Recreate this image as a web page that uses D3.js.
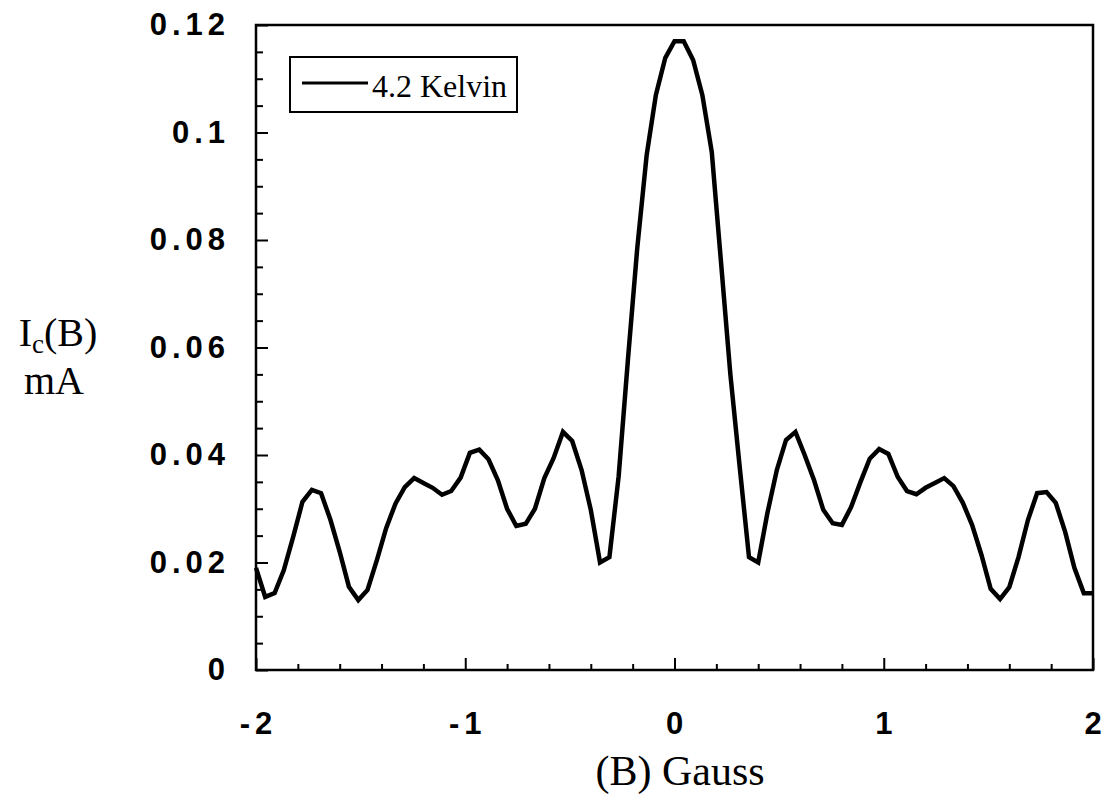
<!DOCTYPE html>
<html>
<head>
<meta charset="utf-8">
<script src="https://cdn.jsdelivr.net/npm/d3@7"></script>
<style>
  body { margin: 0; background: #fff; }
  .tick-label { font-family: "Liberation Sans", Arial, sans-serif; font-weight: bold; font-size: 31px; letter-spacing: 5px; }
  .serif { font-family: "Liberation Serif", "Times New Roman", serif; }
</style>
</head>
<body>
<div id="chart"></div>
<script>
// field (Gauss)
const fieldB = [
  -2.000, -1.956, -1.911, -1.867, -1.822, -1.778, -1.733, -1.689, -1.644, -1.600,
  -1.556, -1.511, -1.467, -1.422, -1.378, -1.333, -1.289, -1.244, -1.200, -1.156,
  -1.111, -1.067, -1.022, -0.978, -0.933, -0.889, -0.844, -0.800, -0.756, -0.711,
  -0.667, -0.622, -0.578, -0.533, -0.489, -0.444, -0.400, -0.356, -0.311, -0.267,
  -0.222, -0.178, -0.133, -0.089, -0.044, 0.000, 0.044, 0.089, 0.133, 0.178,
  0.222, 0.267, 0.311, 0.356, 0.400, 0.444, 0.489, 0.533, 0.578, 0.622,
  0.667, 0.711, 0.756, 0.800, 0.844, 0.889, 0.933, 0.978, 1.022, 1.067,
  1.111, 1.156, 1.200, 1.244, 1.289, 1.333, 1.378, 1.422, 1.467, 1.511,
  1.556, 1.600, 1.644, 1.689, 1.733, 1.778, 1.822, 1.867, 1.911, 1.956, 2.000
];
// critical current (mA) at 4.2 K
const currentIc = [
  0.0190, 0.0136, 0.0143, 0.0186, 0.0248, 0.0313, 0.0335, 0.0329, 0.0279, 0.0220,
  0.0155, 0.0130, 0.0149, 0.0205, 0.0264, 0.0310, 0.0340, 0.0357, 0.0348, 0.0339,
  0.0326, 0.0333, 0.0358, 0.0404, 0.0410, 0.0392, 0.0353, 0.0300, 0.0268, 0.0272,
  0.0300, 0.0357, 0.0394, 0.0443, 0.0426, 0.0372, 0.0298, 0.0200, 0.0210, 0.0360,
  0.0580, 0.0785, 0.0958, 0.1070, 0.1139, 0.1170, 0.1170, 0.1135, 0.1070, 0.0964,
  0.0760, 0.0550, 0.0380, 0.0210, 0.0200, 0.0292, 0.0372, 0.0428, 0.0443, 0.0400,
  0.0353, 0.0298, 0.0273, 0.0270, 0.0303, 0.0350, 0.0393, 0.0411, 0.0402, 0.0359,
  0.0333, 0.0327, 0.0339, 0.0348, 0.0357, 0.0342, 0.0311, 0.0270, 0.0214, 0.0151,
  0.0132, 0.0154, 0.0210, 0.0279, 0.0329, 0.0331, 0.0311, 0.0257, 0.0190, 0.0143, 0.0143
];
const xTicks = [-2, -1, 0, 1, 2];
const xMinorTicks = [-1.8, -1.6, -1.4, -1.2, -0.8, -0.6, -0.4, -0.2, 0.2, 0.4, 0.6, 0.8, 1.2, 1.4, 1.6, 1.8];
const yTicks = [0, 0.02, 0.04, 0.06, 0.08, 0.1, 0.12];
const yTickLabels = ["0", "0.02", "0.04", "0.06", "0.08", "0.1", "0.12"];
const yMinorTicks = [0.005, 0.01, 0.015, 0.025, 0.03, 0.035, 0.045, 0.05, 0.055, 0.065, 0.07, 0.075,
  0.085, 0.09, 0.095, 0.105, 0.11, 0.115];
const seriesName = "4.2 Kelvin";

const width = 1108, height = 798;
const margin = { top: 25, right: 15, bottom: 128, left: 256 };
const w = width - margin.left - margin.right;
const h = height - margin.top - margin.bottom;

const svg = d3.select("#chart").append("svg")
  .attr("width", width)
  .attr("height", height);

const g = svg.append("g")
  .attr("transform", `translate(${margin.left},${margin.top})`);

const x = d3.scaleLinear().domain([-2, 2]).range([0, w]);
const y = d3.scaleLinear().domain([0, 0.12]).range([h, 0]);

// minor ticks (inward)
g.append("g")
  .attr("transform", `translate(0,${h})`)
  .call(d3.axisBottom(x).tickValues(xMinorTicks).tickSize(-6).tickFormat(""));
g.append("g")
  .call(d3.axisLeft(y).tickValues(yMinorTicks).tickSize(-7).tickFormat(""));

// major ticks + labels
g.append("g")
  .attr("transform", `translate(0,${h})`)
  .call(d3.axisBottom(x).tickValues(xTicks).tickSize(-12).tickPadding(42)
    .tickFormat(d => String(d)))
  .selectAll("text").attr("class", "tick-label").attr("dx", 2);
g.append("g")
  .call(d3.axisLeft(y).tickValues(yTicks).tickSize(-12).tickPadding(26)
    .tickFormat((d, i) => yTickLabels[i]))
  .selectAll("text").attr("class", "tick-label");

g.selectAll(".domain").remove();
g.selectAll(".tick line").attr("stroke", "#000").attr("stroke-width", 2);
g.selectAll(".tick text").attr("fill", "#000").attr("font-size", null).attr("font-family", null);

// frame
g.append("rect")
  .attr("width", w).attr("height", h)
  .attr("fill", "none").attr("stroke", "#000").attr("stroke-width", 2.5);

// curve
const line = d3.line()
  .x((d, i) => x(fieldB[i]))
  .y(d => y(d));

g.append("path")
  .datum(currentIc)
  .attr("fill", "none")
  .attr("stroke", "#000")
  .attr("stroke-width", 4.5)
  .attr("stroke-linejoin", "miter")
  .attr("d", line);

// legend
const legend = svg.append("g").attr("transform", "translate(290,57)");
legend.append("rect")
  .attr("width", 227).attr("height", 55)
  .attr("fill", "#fff").attr("stroke", "#000").attr("stroke-width", 2);
legend.append("line")
  .attr("x1", 12).attr("x2", 78).attr("y1", 26).attr("y2", 26)
  .attr("stroke", "#000").attr("stroke-width", 3);
legend.append("text")
  .attr("class", "serif")
  .attr("x", 82).attr("y", 40)
  .attr("font-size", 32)
  .text(seriesName);

// axis titles
svg.append("text")
  .attr("class", "serif")
  .attr("x", 680).attr("y", 785)
  .attr("text-anchor", "middle")
  .attr("font-size", 42)
  .text("(B) Gauss");

const yTitle = svg.append("text")
  .attr("class", "serif")
  .attr("x", 58).attr("y", 346)
  .attr("text-anchor", "middle")
  .attr("font-size", 40);
yTitle.append("tspan").text("I");
yTitle.append("tspan").attr("font-size", 27).attr("dy", 7).text("c");
yTitle.append("tspan").attr("dy", -7).text("(B)");

svg.append("text")
  .attr("class", "serif")
  .attr("x", 54).attr("y", 394)
  .attr("text-anchor", "middle")
  .attr("font-size", 40)
  .text("mA");
</script>
</body>
</html>
